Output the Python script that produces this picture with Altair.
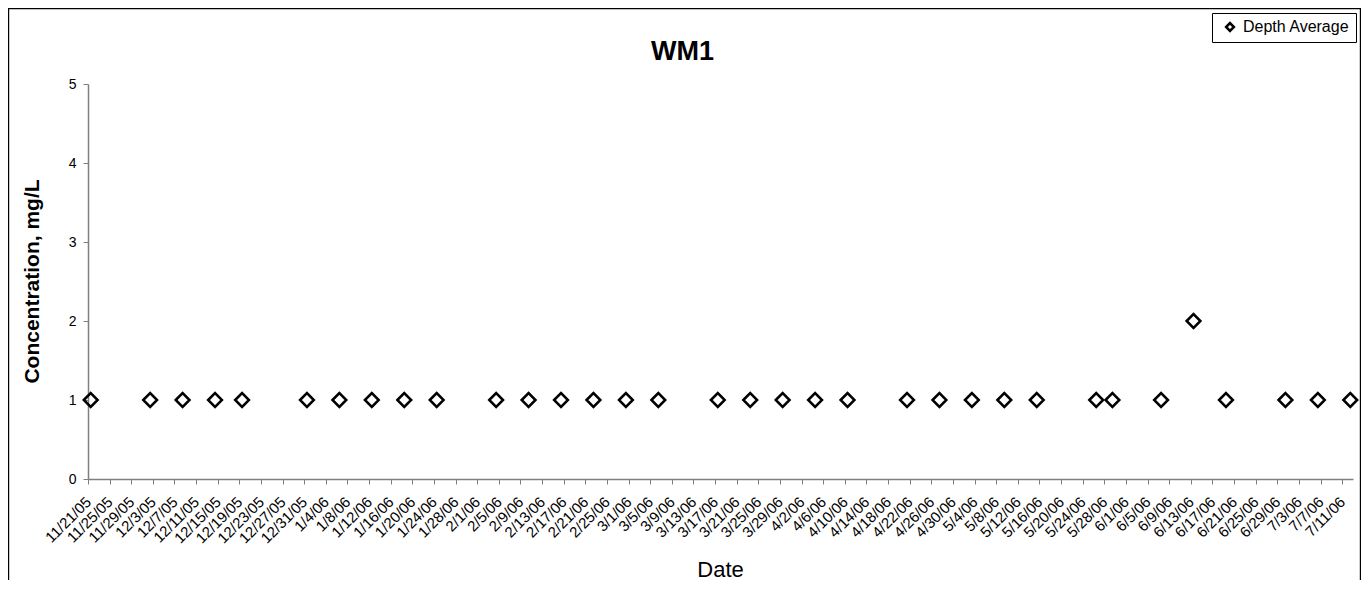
import altair as alt
import pandas as pd

# ---- data ----
sample_dates = [
    "2005-11-21", "2005-12-02", "2005-12-08", "2005-12-14", "2005-12-19",
    "2005-12-31", "2006-01-06", "2006-01-12", "2006-01-18", "2006-01-24",
    "2006-02-04", "2006-02-10", "2006-02-16", "2006-02-22", "2006-02-28",
    "2006-03-06", "2006-03-17", "2006-03-23", "2006-03-29", "2006-04-04",
    "2006-04-10", "2006-04-21", "2006-04-27", "2006-05-03", "2006-05-09",
    "2006-05-15", "2006-05-26", "2006-05-29", "2006-06-07", "2006-06-13",
    "2006-06-19", "2006-06-30", "2006-07-06", "2006-07-12",
]
depth_average = [
    1, 1, 1, 1, 1,
    1, 1, 1, 1, 1,
    1, 1, 1, 1, 1,
    1, 1, 1, 1, 1,
    1, 1, 1, 1, 1,
    1, 1, 1, 1, 2,
    1, 1, 1, 1,
]
tick_labels = [
    "11/21/05", "11/25/05", "11/29/05", "12/3/05", "12/7/05", "12/11/05",
    "12/15/05", "12/19/05", "12/23/05", "12/27/05", "12/31/05", "1/4/06",
    "1/8/06", "1/12/06", "1/16/06", "1/20/06", "1/24/06", "1/28/06",
    "2/1/06", "2/5/06", "2/9/06", "2/13/06", "2/17/06", "2/21/06",
    "2/25/06", "3/1/06", "3/5/06", "3/9/06", "3/13/06", "3/17/06",
    "3/21/06", "3/25/06", "3/29/06", "4/2/06", "4/6/06", "4/10/06",
    "4/14/06", "4/18/06", "4/22/06", "4/26/06", "4/30/06", "5/4/06",
    "5/8/06", "5/12/06", "5/16/06", "5/20/06", "5/24/06", "5/28/06",
    "6/1/06", "6/5/06", "6/9/06", "6/13/06", "6/17/06", "6/21/06",
    "6/25/06", "6/29/06", "7/3/06", "7/7/06", "7/11/06",
]
series_name = "Depth Average"
domain_start = "2005-11-21"
domain_end = "2006-07-13"


def ms(ts):
    return int(pd.Timestamp(ts).value // 1_000_000)


# points sit in the middle of their day slot (Excel date axis, between tick marks)
half_day = 12 * 3600 * 1000
df = pd.DataFrame({
    "Date": [ms(d) + half_day for d in sample_dates],
    "Value": depth_average,
    "Series": [series_name] * len(sample_dates),
})
tick_values = [ms(pd.to_datetime(t, format="%m/%d/%y")) for t in tick_labels]

FONT = "Liberation Sans"
GRAY = "#808080"

points = alt.Chart(df).mark_point(
    shape="diamond", filled=False, size=190, strokeWidth=2.5, opacity=1
).encode(
    x=alt.X(
        "Date:T",
        scale=alt.Scale(type="utc", domain=[ms(domain_start), ms(domain_end)]),
        axis=alt.Axis(
            values=tick_values,
            labelExpr="utcFormat(datum.value, '%-m/%-d/%y')",
            labelAngle=-45,
            labelAlign="right",
            labelBaseline="middle",
            labelPadding=15,
            labelFontSize=15,
            labelFont=FONT,
            labelColor="black",
            labelOverlap=False,
            labelBound=False,
            labelFlush=False,
            tickSize=5,
            tickColor=GRAY,
            domainColor=GRAY,
            domainWidth=1.5,
            grid=False,
            title="Date",
            titleFont=FONT,
            titleFontSize=22,
            titleFontWeight="normal",
            titleColor="black",
            titleX=632,
            titleY=97,
            titleBaseline="alphabetic",
            titleAlign="center",
        ),
    ),
    y=alt.Y(
        "Value:Q",
        scale=alt.Scale(domain=[0, 5], nice=False),
        axis=alt.Axis(
            values=[0, 1, 2, 3, 4, 5],
            format="d",
            labelFontSize=14,
            labelFont=FONT,
            labelColor="black",
            labelPadding=7,
            tickSize=5,
            tickColor=GRAY,
            domainColor=GRAY,
            domainWidth=1.5,
            grid=False,
            title="Concentration, mg/L",
            titleFont=FONT,
            titleFontSize=21,
            titleFontWeight="bold",
            titleColor="black",
            titleAngle=-90,
            titleX=-56,
            titleY=197,
            titleAlign="center",
            titleBaseline="middle",
        ),
    ),
    color=alt.Color(
        "Series:N",
        scale=alt.Scale(domain=[series_name], range=["black"]),
        legend=alt.Legend(
            title=None,
            orient="none",
            legendX=1124,
            legendY=-71,
            direction="vertical",
            symbolType="diamond",
            symbolSize=60,
            symbolStrokeWidth=2.5,
            symbolFillColor="white",
            symbolOffset=4,
            labelFont=FONT,
            labelFontSize=16,
            labelColor="black",
            labelOffset=5,
            padding=6,
            strokeColor="black",
            fillColor="white",
        ),
    ),
)

frame = alt.Chart(pd.DataFrame({"k": [0]})).mark_rect(
    fill="transparent", stroke="black", strokeWidth=1.2
).encode(
    x=alt.value(-79.4),
    x2=alt.value(1272.4),
    y=alt.value(-75.4),
    y2=alt.value(560),
)

chart = alt.layer(frame, points).properties(
    width=1265,
    height=395,
    title=alt.TitleParams(
        "WM1",
        font=FONT,
        fontSize=27,
        fontWeight="bold",
        color="black",
        anchor="middle",
        dx=-38,
        dy=79,
        offset=0,
        baseline="alphabetic",
    ),
    autosize=alt.AutoSizeParams(type="none"),
    padding={"left": 80, "top": 76, "right": 8, "bottom": 101},
).configure(
    background="white",
    view=alt.ViewConfig(stroke=None),
)

chart.save("out.html", embed_options={"renderer": "svg", "actions": False})
